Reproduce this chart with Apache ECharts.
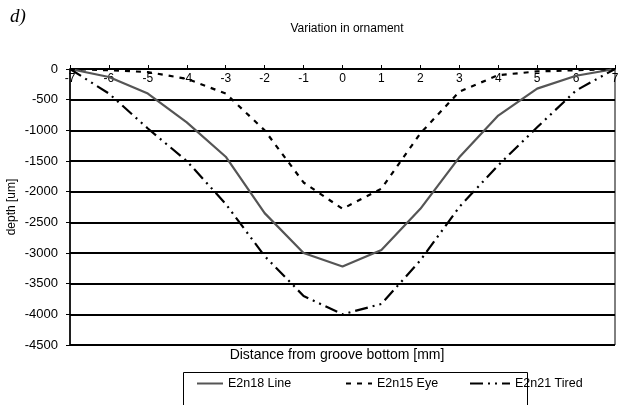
<!DOCTYPE html>
<html>
<head>
<meta charset="utf-8">
<script src="https://cdn.jsdelivr.net/npm/echarts@6/dist/echarts.min.js"></script>
<style>
  html, body { margin: 0; padding: 0; background: #fff; }
  #chart { width: 620px; height: 405px; }
</style>
</head>
<body>
<div id="chart"></div>
<script>
// Distance from the groove bottom, mm
const distances = [-7, -6, -5, -4, -3, -2, -1, 0, 1, 2, 3, 4, 5, 6, 7];

// Measured depth profiles, um
const lineDepth  = [0, -130, -400, -870, -1430, -2350, -3000, -3220, -2950, -2280, -1440, -760, -320, -110, 0];
const eyeDepth   = [0, -20, -50, -160, -400, -1000, -1850, -2280, -1950, -1050, -370, -100, -40, -20, 0];
const tiredDepth = [0, -400, -970, -1500, -2200, -3050, -3700, -4000, -3830, -3120, -2250, -1570, -950, -350, 0];

const seriesNames = ['E2n18 Line', 'E2n15 Eye', 'E2n21 Tired'];

const pairs = (ys) => distances.map((x, i) => [x, ys[i]]);

const font = 'Liberation Sans, Arial, sans-serif';

const lineStyles = [
  { color: '#555', width: 2.2, type: 'solid' },
  { color: '#000', width: 2.2, type: [5, 6] },
  { color: '#000', width: 2.2, type: [13, 5, 2, 5, 2, 5] }
];

// one legend entry per box slot, sharing a common frame
const legendSlot = (name, left, iconWidth) => ({
  data: [name],
  left: left, top: 377,
  padding: 0,
  itemWidth: iconWidth,
  itemHeight: 12,
  itemGap: 0,
  itemStyle: { opacity: 0 },
  textStyle: { fontFamily: font, fontSize: 12.5, color: '#000' }
});

const chart = echarts.init(document.getElementById('chart'), null, { renderer: 'canvas' });

chart.setOption({
  animation: false,
  backgroundColor: '#fff',
  title: [
    {
      text: 'd)', left: 5, top: 2,
      textStyle: { fontFamily: 'Liberation Serif, Times New Roman, serif', fontStyle: 'italic', fontWeight: 'normal', fontSize: 19, color: '#000' }
    },
    {
      text: 'Variation in ornament', left: 342, top: 18, textAlign: 'center',
      textStyle: { fontFamily: font, fontWeight: 'normal', fontSize: 12, color: '#000' }
    },
    {
      text: 'Distance from groove bottom [mm]', left: 332, top: 343, textAlign: 'center',
      textStyle: { fontFamily: font, fontWeight: 'normal', fontSize: 14, color: '#000' }
    }
  ],
  graphic: [{
    type: 'rect', left: 183, top: 372, silent: true,
    shape: { width: 344, height: 40 },
    style: { fill: '#fff', stroke: '#000', lineWidth: 1 },
    z: -1
  }],
  legend: [
    legendSlot(seriesNames[0], 196, 26),
    legendSlot(seriesNames[1], 345, 26),
    legendSlot(seriesNames[2], 469, 40)
  ],
  grid: {
    left: 70, right: 5, top: 69, bottom: 60,
    containLabel: false,
    outerBoundsMode: 'none',
    show: true, borderColor: '#000', borderWidth: 1
  },
  xAxis: {
    type: 'value',
    position: 'top',
    min: -7, max: 7, interval: 1,
    axisLine: { onZero: false, lineStyle: { color: '#000', width: 1.5 } },
    axisTick: { inside: false, length: 4, lineStyle: { color: '#000' } },
    axisLabel: { inside: true, margin: 4, fontFamily: font, fontSize: 12, color: '#000' },
    splitLine: { show: false }
  },
  yAxis: {
    type: 'value',
    min: -4500, max: 0, interval: 500,
    name: 'depth [um]',
    nameLocation: 'middle',
    nameGap: 52,
    nameMoveOverlap: false,
    nameRotate: 90,
    nameTextStyle: { fontFamily: font, fontSize: 12, color: '#000' },
    axisLine: { show: true, onZero: false, lineStyle: { color: '#000', width: 1.5 } },
    axisTick: { show: true, inside: false, length: 4, lineStyle: { color: '#000' } },
    axisLabel: { margin: 12, fontFamily: font, fontSize: 13, color: '#000', formatter: (v) => String(v) },
    splitLine: { show: true, lineStyle: { color: '#000', width: 1.8 } }
  },
  series: seriesNames.map((name, i) => ({
    name: name,
    type: 'line',
    data: pairs([lineDepth, eyeDepth, tiredDepth][i]),
    symbol: 'none',
    showSymbol: false,
    lineStyle: lineStyles[i],
    itemStyle: { color: lineStyles[i].color },
    z: i === 0 ? 3 : 4
  }))
});
</script>
</body>
</html>
